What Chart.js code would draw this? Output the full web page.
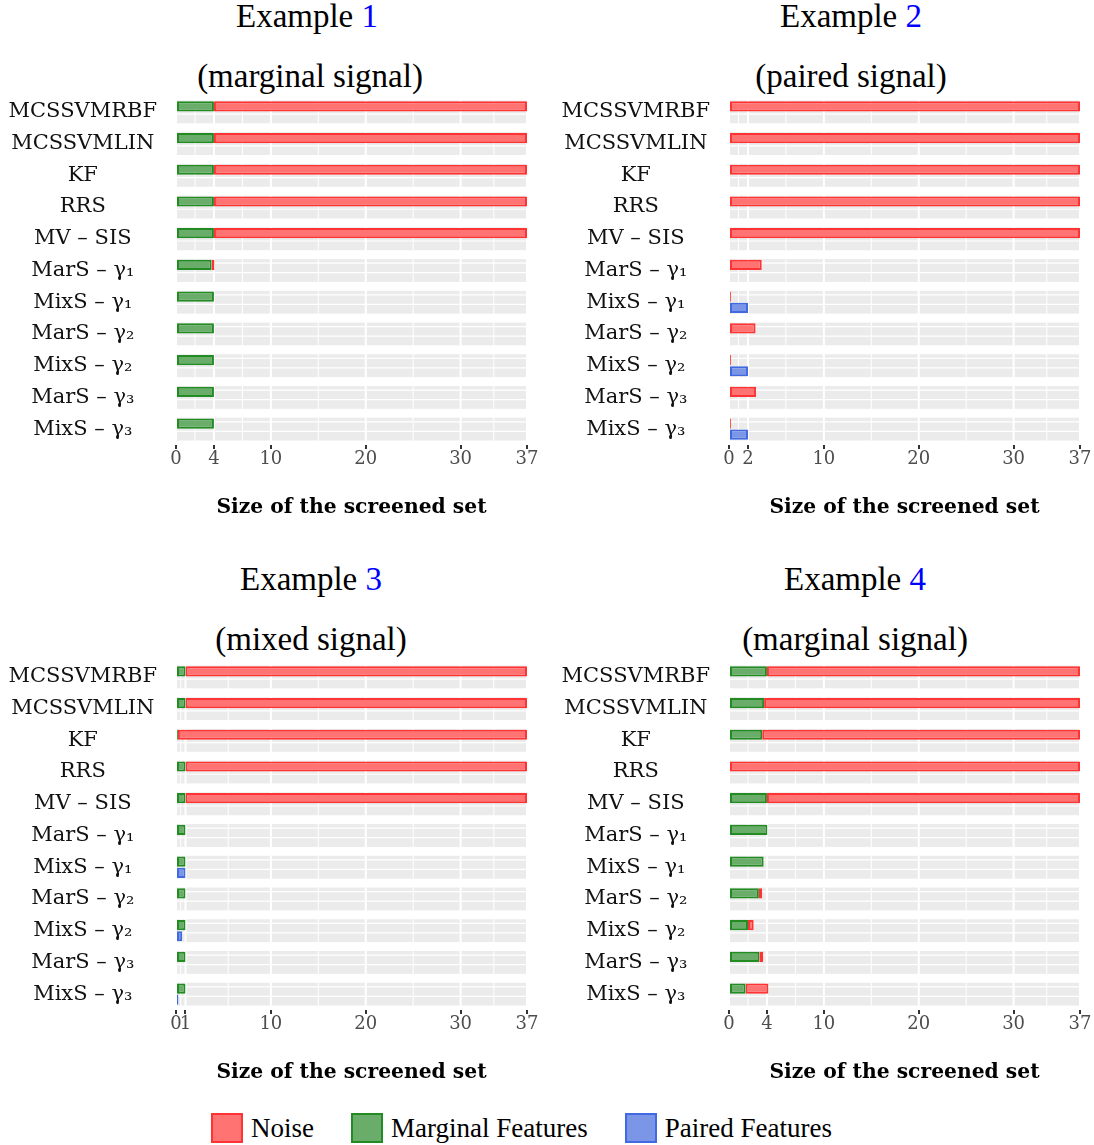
<!DOCTYPE html>
<html>
<head>
<meta charset="utf-8">
<script src="https://cdn.jsdelivr.net/npm/chart.js@4.4.1/dist/chart.umd.min.js"></script>
<style>
  html, body { margin: 0; padding: 0; background: #fff; }
  body { width: 1094px; height: 1145px; position: relative; overflow: hidden; }
  .title { position: absolute; font-family: 'Liberation Serif', serif; font-size: 33px; line-height: 33px;
           color: #000; white-space: nowrap; transform: translateX(-50%); }
  .title .num { color: #0000ff; }
  .panel { position: absolute; width: 541px; height: 440px; }
  #legend { position: absolute; left: 211px; top: 1113px; display: flex; align-items: center;
            font-family: 'Liberation Serif', serif; font-size: 27px; color: #000; }
  #legend .item { display: flex; align-items: center; margin-right: 37px; }
  #legend .box { width: 28px; height: 26px; border: 2px solid; }
  #legend .lab { margin-left: 8px; line-height: 30px; }
</style>
</head>
<body>
<div class="title" style="left:307px;top:0px">Example <span class="num">1</span></div>
<div class="title" style="left:310px;top:60px">(marginal signal)</div>
<div class="title" style="left:851px;top:0px">Example <span class="num">2</span></div>
<div class="title" style="left:851px;top:60px">(paired signal)</div>
<div class="title" style="left:311px;top:563px">Example <span class="num">3</span></div>
<div class="title" style="left:311px;top:623px">(mixed signal)</div>
<div class="title" style="left:855px;top:563px">Example <span class="num">4</span></div>
<div class="title" style="left:855px;top:623px">(marginal signal)</div>

<div class="panel" style="left:0px;top:88px"><canvas id="c1"></canvas></div>
<div class="panel" style="left:553px;top:88px"><canvas id="c2"></canvas></div>
<div class="panel" style="left:0px;top:653px"><canvas id="c3"></canvas></div>
<div class="panel" style="left:553px;top:653px"><canvas id="c4"></canvas></div>

<div id="legend"></div>

<script>
// ---------------- DATA ----------------
const methods = ['MCSSVMRBF', 'MCSSVMLIN', 'KF', 'RRS', 'MV – SIS',
                 'MarS – γ₁', 'MixS – γ₁', 'MarS – γ₂', 'MixS – γ₂', 'MarS – γ₃', 'MixS – γ₃'];

const seriesNames = ['Noise', 'Marginal Features', 'Paired Features'];

// Example 1 (marginal signal)
const ex1Marginal = [4, 4, 4, 4, 4, 3.75, 4, 4, 4, 4, 4];
const ex1Noise    = [33, 33, 33, 33, 33, 0.3, 0, 0, 0, 0, 0];
const ex1Paired   = [0, 0, 0, 0, 0, 0, 0, 0, 0, 0, 0];
const ex1Ticks    = [0, 4, 10, 20, 30, 37];

// Example 2 (paired signal)
const ex2Marginal = [0, 0, 0, 0, 0, 0, 0, 0, 0, 0, 0];
const ex2Noise    = [37, 37, 37, 37, 37, 3.45, 0.2, 2.8, 0.2, 2.85, 0.2];
const ex2Paired   = [0, 0, 0, 0, 0, 0, 2, 0, 2, 0, 2];
const ex2Ticks    = [0, 2, 10, 20, 30, 37];

// Example 3 (mixed signal)
const ex3Marginal = [1, 1, 0.2, 1, 1, 1, 1, 1, 1, 1, 1];
const ex3Noise    = [36, 36, 36.8, 36, 36, 0, 0, 0, 0, 0, 0];
const ex3Paired   = [0, 0, 0, 0, 0, 0, 1, 0, 0.65, 0, 0.25];
const ex3Ticks    = [0, 1, 10, 20, 30, 37];

// Example 4 (marginal signal)
const ex4Marginal = [4, 3.7, 3.5, 0, 4, 4.05, 3.65, 3.15, 2.0, 3.2, 1.75];
const ex4Noise    = [33, 33.3, 33.5, 37, 33, 0, 0, 0.35, 0.6, 0.4, 2.4];
const ex4Paired   = [0, 0, 0, 0, 0, 0, 0, 0, 0, 0, 0];
const ex4Ticks    = [0, 4, 10, 20, 30, 37];

const xMax = 37;
const axisTitle = 'Size of the screened set';

// ---------------- STYLES ----------------
const COLORS = {
  noise:    { fill: '#ff7373', border: '#ff3333' },
  marginal: { fill: '#6aad6a', border: '#228b22' },
  paired:   { fill: '#7b96e6', border: '#4169e1' }
};

const bandPlugin = {
  id: 'bands',
  beforeDatasetsDraw(chart, args, opts) {
    const { ctx, chartArea: a, scales: { x, y } } = chart;
    const n = chart.data.labels.length;
    const step = y.getPixelForValue(1) - y.getPixelForValue(0);
    ctx.save();
    for (let i = 0; i < n; i++) {
      const c = y.getPixelForValue(i);
      const top = c - step * 0.36, bot = c + step * 0.36;
      ctx.fillStyle = '#ebebeb';
      ctx.fillRect(a.left, top, a.right - a.left, bot - top);
      ctx.strokeStyle = '#ffffff';
      ctx.lineWidth = 1.2;
      [c - step * 0.23, c + step * 0.07].forEach(yy => {
        ctx.beginPath(); ctx.moveTo(a.left, yy); ctx.lineTo(a.right, yy); ctx.stroke();
      });
    }
    const ticks = opts.ticks || [];
    const minors = ticks.slice(1).map((t, i) => (t + ticks[i]) / 2);
    ctx.strokeStyle = '#ffffff';
    ctx.lineWidth = 1;
    minors.forEach(v => {
      const px = x.getPixelForValue(v);
      ctx.beginPath(); ctx.moveTo(px, a.top); ctx.lineTo(px, a.bottom); ctx.stroke();
    });
    ctx.lineWidth = 2;
    ticks.forEach(v => {
      const px = x.getPixelForValue(v);
      ctx.beginPath(); ctx.moveTo(px, a.top); ctx.lineTo(px, a.bottom); ctx.stroke();
    });
    ctx.restore();
  }
};

function makeChart(id, marginal, noise, paired, ticks) {
  const ds = (label, data, col, stack) => ({
    label, data, stack,
    backgroundColor: col.fill, borderColor: col.border,
    borderWidth: 2, borderSkipped: false,
    categoryPercentage: 0.7, barPercentage: 0.92
  });
  return new Chart(document.getElementById(id), {
    type: 'bar',
    data: {
      labels: methods,
      datasets: [
        ds(seriesNames[1], marginal, COLORS.marginal, 'a'),
        ds(seriesNames[0], noise, COLORS.noise, 'a'),
        ds(seriesNames[2], paired, COLORS.paired, 'b')
      ]
    },
    options: {
      indexAxis: 'y',
      responsive: true,
      maintainAspectRatio: false,
      animation: false,
      layout: { padding: { top: 8, bottom: 8, left: 0, right: 14 } },
      plugins: {
        legend: { display: false },
        tooltip: { enabled: false },
        bands: { ticks }
      },
      scales: {
        x: {
          type: 'linear', min: 0, max: xMax, stacked: true,
          afterBuildTicks: s => { s.ticks = ticks.map(v => ({ value: v })); },
          ticks: {
            font: { family: 'DejaVu Serif', size: 18 }, color: '#4d4d4d',
            padding: 0, autoSkip: false, maxRotation: 0
          },
          grid: { drawOnChartArea: false, drawTicks: true, tickLength: 4, color: '#333333', lineWidth: 2 },
          border: { display: false },
          title: {
            display: true, text: axisTitle, color: '#000',
            font: { family: 'DejaVu Serif', size: 20.3, weight: 'bold', lineHeight: 1.2 },
            padding: { top: 0, bottom: 0 }
          },
          afterFit: s => { s.height = 75; }
        },
        y: {
          type: 'category', offset: true,
          ticks: {
            font: { family: 'DejaVu Serif', size: 21 }, color: '#111',
            crossAlign: 'center', padding: 19, autoSkip: false
          },
          grid: { display: false, drawTicks: false },
          border: { display: false },
          afterFit: s => { s.width = 176; s.paddingTop = 0; s.paddingBottom = 0; }
        }
      }
    },
    plugins: [bandPlugin]
  });
}

makeChart('c1', ex1Marginal, ex1Noise, ex1Paired, ex1Ticks);
makeChart('c2', ex2Marginal, ex2Noise, ex2Paired, ex2Ticks);
makeChart('c3', ex3Marginal, ex3Noise, ex3Paired, ex3Ticks);
makeChart('c4', ex4Marginal, ex4Noise, ex4Paired, ex4Ticks);

// legend
const legendCols = [COLORS.noise, COLORS.marginal, COLORS.paired];
const lg = document.getElementById('legend');
seriesNames.forEach((name, i) => {
  const it = document.createElement('div'); it.className = 'item';
  const b = document.createElement('div'); b.className = 'box';
  b.style.background = legendCols[i].fill; b.style.borderColor = legendCols[i].border;
  const t = document.createElement('span'); t.className = 'lab'; t.textContent = name;
  it.appendChild(b); it.appendChild(t); lg.appendChild(it);
});
</script>
</body>
</html>
